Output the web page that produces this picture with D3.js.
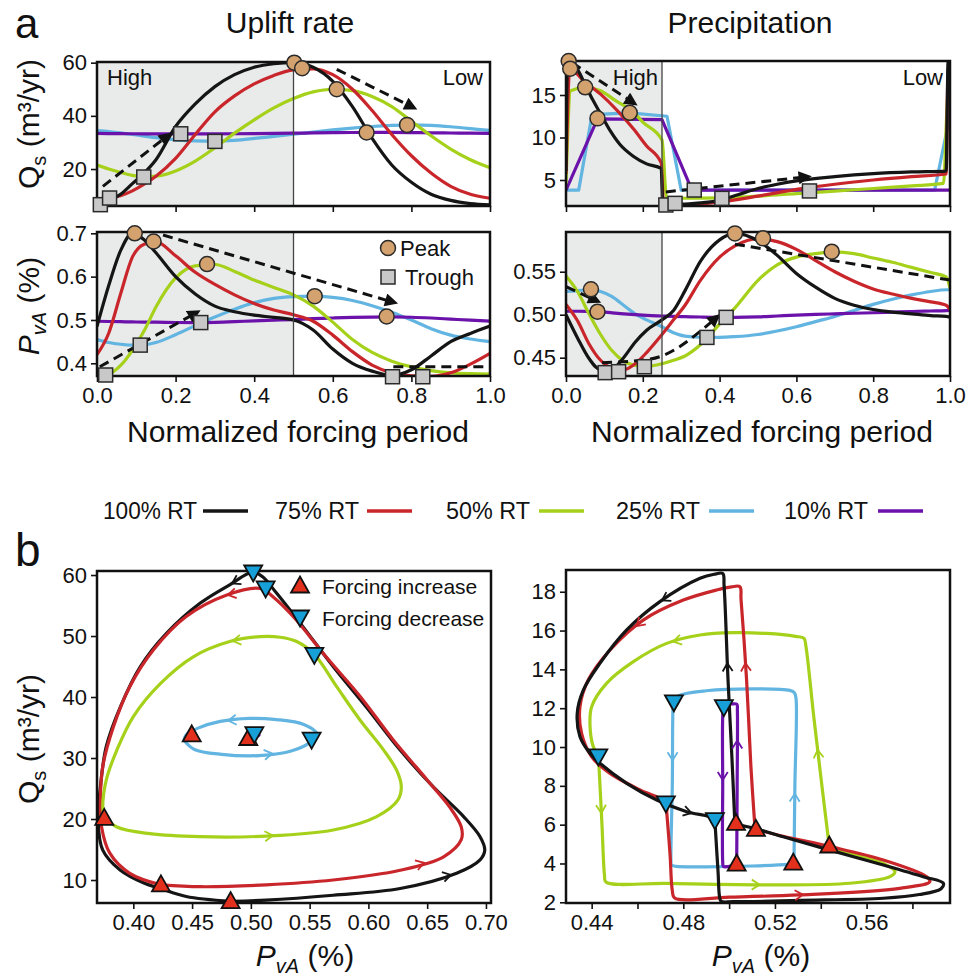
<!DOCTYPE html>
<html>
<head>
<meta charset="utf-8">
<script src="https://cdn.jsdelivr.net/npm/d3@7"></script>
<style>
  body { margin: 0; background: #fff; }
  svg { font-family: "Liberation Sans", Arial, Helvetica, sans-serif; }
</style>
</head>
<body>
<div id="fig"></div>
<script>
// ---------- data ----------
const rtLabels = ["100% RT", "75% RT", "50% RT", "25% RT", "10% RT"];

// a) uplift forcing, normalized period grid
const tUp = [0, 0.03, 0.06, 0.09, 0.12, 0.15, 0.2, 0.25, 0.3, 0.35, 0.4, 0.45, 0.5, 0.55, 0.6, 0.65, 0.7, 0.75, 0.8, 0.85, 0.9, 0.95, 1];
const qsUp100 = [7, 8, 10.5, 14.5, 18.5, 23.5, 36, 44.5, 51, 55.5, 58.3, 59.6, 60, 58.3, 53, 43.5, 31.5, 21.5, 15, 10.5, 8.2, 7, 6.5];
const qsUp75 = [8.8, 9.3, 10, 11.8, 14.3, 17.3, 24, 33, 41.5, 47.5, 52, 55.2, 57.3, 57.7, 55.5, 50, 42, 33, 25, 18.5, 13.5, 10.5, 9];
const qsUp50 = [21.5, 20, 18.7, 17.6, 17.1, 17.3, 19.3, 23, 28, 33.5, 38.5, 43, 46.5, 49, 50, 49.5, 47.3, 43.5, 38, 32.5, 27.5, 23.5, 20.5];
const qsUp25 = [34.5, 34.1, 33.6, 33, 32.4, 31.8, 31, 30.6, 30.5, 30.8, 31.5, 32.3, 33.1, 33.9, 34.7, 35.4, 36, 36.4, 36.6, 36.4, 35.9, 35.2, 34.5];
const qsUp10 = [33.4, 33.35, 33.3, 33.27, 33.24, 33.22, 33.2, 33.2, 33.22, 33.27, 33.33, 33.4, 33.48, 33.57, 33.66, 33.74, 33.78, 33.76, 33.7, 33.62, 33.55, 33.48, 33.42];

const pvaUp100 = [0.485, 0.58, 0.66, 0.70, 0.685, 0.655, 0.60, 0.56, 0.532, 0.519, 0.511, 0.506, 0.50, 0.477, 0.433, 0.40, 0.382, 0.372, 0.385, 0.417, 0.45, 0.469, 0.486];
const pvaUp75 = [0.42, 0.47, 0.56, 0.645, 0.675, 0.68, 0.648, 0.61, 0.582, 0.558, 0.538, 0.523, 0.512, 0.497, 0.465, 0.427, 0.396, 0.378, 0.371, 0.370, 0.378, 0.398, 0.423];
const pvaUp50 = [0.375, 0.376, 0.395, 0.43, 0.475, 0.53, 0.597, 0.625, 0.628, 0.612, 0.592, 0.575, 0.558, 0.532, 0.495, 0.455, 0.425, 0.405, 0.392, 0.383, 0.378, 0.376, 0.375];
const pvaUp25 = [0.455, 0.448, 0.444, 0.442, 0.443, 0.448, 0.466, 0.487, 0.507, 0.525, 0.54, 0.55, 0.554, 0.555, 0.552, 0.545, 0.533, 0.518, 0.5, 0.48, 0.465, 0.456, 0.45];
const pvaUp10 = [0.497, 0.4965, 0.496, 0.4955, 0.495, 0.4948, 0.4942, 0.494, 0.4945, 0.496, 0.498, 0.4995, 0.501, 0.503, 0.5045, 0.5058, 0.5066, 0.507, 0.5063, 0.5045, 0.502, 0.4995, 0.4975];

const qsUpPeaks = [[0.502, 60], [0.522, 57.9], [0.61, 50], [0.686, 33.75], [0.789, 36.6]];
const qsUpTroughs = [[0.0085, 6.6], [0.032, 9.1], [0.119, 17], [0.213, 33.25], [0.30, 30.4]];
const pvaUpPeaks = [[0.096, 0.70], [0.144, 0.681], [0.28, 0.629], [0.554, 0.555], [0.737, 0.508]];
const pvaUpTroughs = [[0.022, 0.373], [0.11, 0.442], [0.264, 0.494], [0.752, 0.369], [0.829, 0.369]];
const qsUpArrows = [[[0.015, 13.5], [0.177, 32.2]], [[0.61, 57.5], [0.80, 43.5]]];
const pvaUpArrows = [[[0.007, 0.392], [0.249, 0.515]], [[0.168, 0.696], [0.75, 0.542]]];
const pvaUpDashes = [[[0.754, 0.392], [1.0, 0.392]]];

// a) precipitation forcing
const tQsPr100 = [0, 0.004, 0.03, 0.05, 0.07, 0.09, 0.115, 0.14, 0.175, 0.21, 0.248, 0.252, 0.3, 0.35, 0.4, 0.45, 0.5, 0.55, 0.6, 0.7, 0.8, 0.9, 0.99, 0.995, 1];
const qsPr100 = [6.05, 19, 18, 16.2, 14.4, 12.8, 10.8, 9.2, 7.8, 6.9, 6.35, 2.2, 2.15, 2.3, 2.6, 3.3, 4.0, 4.5, 4.9, 5.4, 5.75, 5.95, 6.05, 19, 19];
const tQsPr75 = [0, 0.01, 0.045, 0.09, 0.133, 0.176, 0.21, 0.248, 0.254, 0.3, 0.4, 0.5, 0.6, 0.7, 0.8, 0.9, 0.99, 0.995, 1];
const qsPr75 = [5.7, 18.1, 16.7, 15.1, 13.2, 11.0, 9.0, 7.0, 2.1, 2.1, 2.4, 3.1, 3.9, 4.5, 5.0, 5.4, 5.7, 18.1, 18.1];
const tQsPr50 = [0, 0.012, 0.05, 0.09, 0.13, 0.175, 0.2, 0.25, 0.262, 0.3, 0.4, 0.5, 0.6, 0.7, 0.8, 0.9, 0.983, 0.995, 1];
const qsPr50 = [4.6, 15.5, 15.9, 15.5, 14.3, 13.0, 11.8, 9.7, 2.9, 2.85, 2.9, 3.1, 3.4, 3.7, 4.0, 4.3, 4.6, 15.4, 15.6];
const tQsPr25 = [0, 0.033, 0.068, 0.166, 0.263, 0.3, 0.96, 1];
const qsPr25 = [3.8, 3.8, 12.7, 12.9, 12.5, 3.8, 3.8, 12.6];
const tQsPr10 = [0, 0.082, 0.25, 0.328, 1];
const qsPr10 = [3.8, 12.2, 12.1, 3.8, 3.8];

const tPvaPr = [0, 0.03, 0.06, 0.09, 0.12, 0.15, 0.18, 0.21, 0.25, 0.28, 0.31, 0.35, 0.4, 0.44, 0.5, 0.55, 0.6, 0.65, 0.7, 0.75, 0.8, 0.85, 0.9, 0.95, 0.99, 1];
const pvaPr100 = [0.500, 0.473, 0.449, 0.436, 0.437, 0.45, 0.468, 0.482, 0.494, 0.505, 0.528, 0.562, 0.587, 0.5946, 0.586, 0.569, 0.548, 0.532, 0.519, 0.511, 0.506, 0.503, 0.501, 0.499, 0.498, 0.497];
const pvaPr75 = [0.512, 0.493, 0.466, 0.447, 0.438, 0.436, 0.443, 0.456, 0.477, 0.494, 0.511, 0.54, 0.567, 0.58, 0.5885, 0.585, 0.576, 0.563, 0.55, 0.539, 0.53, 0.524, 0.519, 0.515, 0.511, 0.506];
const pvaPr50 = [0.545, 0.527, 0.501, 0.477, 0.458, 0.446, 0.441, 0.44, 0.443, 0.447, 0.452, 0.465, 0.489, 0.508, 0.54, 0.558, 0.567, 0.571, 0.573, 0.571, 0.566, 0.561, 0.555, 0.549, 0.544, 0.531];
const pvaPr25 = [0.527, 0.528, 0.529, 0.527, 0.521, 0.511, 0.501, 0.494, 0.486, 0.479, 0.475, 0.4738, 0.4737, 0.4745, 0.477, 0.481, 0.486, 0.492, 0.498, 0.505, 0.512, 0.518, 0.523, 0.527, 0.529, 0.529];
const pvaPr10 = [0.504, 0.504, 0.5037, 0.5032, 0.5022, 0.501, 0.5, 0.4992, 0.4985, 0.498, 0.4977, 0.4973, 0.497, 0.497, 0.4975, 0.4985, 0.4995, 0.5003, 0.501, 0.5017, 0.5023, 0.503, 0.5037, 0.5043, 0.5048, 0.505];

const qsPrPeaks = [[0.007, 19.0], [0.011, 18.1], [0.05, 15.9], [0.082, 12.25], [0.166, 12.9]];
const qsPrTroughs = [[0.26, 2.06], [0.284, 2.25], [0.334, 3.82], [0.406, 2.84], [0.634, 3.71]];
const pvaPrPeaks = [[0.065, 0.5295], [0.082, 0.5035], [0.44, 0.5946], [0.513, 0.5888], [0.692, 0.5733]];
const pvaPrTroughs = [[0.102, 0.4326], [0.137, 0.4337], [0.204, 0.4395], [0.367, 0.4736], [0.417, 0.4969]];
const qsPrArrows = [[[0.016, 18.8], [0.172, 14.2]], [[0.26, 3.6], [0.623, 5.35]]];
const pvaPrArrows = [[[0.0, 0.5326], [0.076, 0.517]], [[0.094, 0.4442], [0.22, 0.4485], [0.389, 0.4957]]];
const pvaPrDashes = [[[0.44, 0.582], [1.0, 0.5403]]];

// b) hysteresis loops (PvA %, Qs m3/yr), in time order
const loopUp100 = [[0.483, 6.5], [0.513, 6.7], [0.570, 7.5], [0.627, 8.6], [0.675, 11.1], [0.695, 13.3], [0.699, 14.9], [0.695, 17.1], [0.681, 20.4], [0.655, 25.3], [0.627, 31.3], [0.598, 38.4], [0.570, 45], [0.542, 52.1], [0.522, 57], [0.510, 59.7], [0.502, 60.5], [0.482, 58.4], [0.457, 55.4], [0.428, 50.4], [0.406, 45], [0.389, 38.4], [0.377, 31.9], [0.372, 25.3], [0.370, 19.8], [0.374, 14.9], [0.389, 11.6], [0.409, 9.5], [0.423, 8.6], [0.445, 7.3], [0.483, 6.5]];
const loopUp75 = [[0.4235, 9.2], [0.457, 8.9], [0.513, 9.2], [0.570, 10], [0.627, 11.6], [0.664, 13.8], [0.679, 16.6], [0.679, 18.7], [0.669, 22], [0.650, 26.4], [0.621, 33], [0.593, 40.1], [0.564, 46.6], [0.536, 53.2], [0.519, 56.4], [0.508, 57.8], [0.479, 56.7], [0.445, 53.2], [0.417, 47.7], [0.397, 41.7], [0.383, 35.1], [0.374, 28.6], [0.372, 23.1], [0.373, 18.7], [0.380, 14.4], [0.397, 11.1], [0.4235, 9.2]];
const loopUp50 = [[0.375, 20.5], [0.386, 18.7], [0.414, 17.6], [0.457, 17.1], [0.513, 17.2], [0.570, 18.2], [0.607, 20.4], [0.625, 23.1], [0.628, 25.3], [0.624, 28], [0.613, 31.3], [0.593, 36.2], [0.573, 41.7], [0.554, 47], [0.539, 49.1], [0.525, 49.8], [0.508, 49.9], [0.482, 49.1], [0.451, 46.6], [0.423, 42.2], [0.400, 36.8], [0.386, 31.3], [0.377, 26.4], [0.374, 22], [0.375, 20.5]];
const loopUp25 = [[0.443, 32.9], [0.452, 31.4], [0.475, 30.6], [0.507, 30.4], [0.535, 31.2], [0.552, 32.8], [0.556, 34.0], [0.545, 35.5], [0.522, 36.3], [0.499, 36.5], [0.474, 36.0], [0.455, 34.9], [0.445, 33.8], [0.443, 32.9]];
const loopUp10 = [[0.4945, 33.25], [0.499, 33.2], [0.504, 33.45], [0.507, 33.75], [0.503, 33.8], [0.498, 33.6], [0.4945, 33.25]];

const loopPr100 = [[0.5025, 6.05], [0.5012, 9.5], [0.4995, 13.5], [0.4978, 18.3], [0.4972, 18.94], [0.4935, 18.9], [0.4873, 18.69], [0.4698, 17.49], [0.4553, 16.03], [0.4436, 14.31], [0.4364, 12.94], [0.4337, 11.73], [0.4349, 10.53], [0.4393, 9.67], [0.4436, 9.16], [0.4553, 8.13], [0.4684, 7.27], [0.4815, 6.67], [0.4938, 6.28], [0.494, 5.8], [0.4952, 3.5], [0.4958, 2.3], [0.4965, 2.05], [0.5018, 2.03], [0.5309, 2.1], [0.5673, 2.21], [0.583, 2.4], [0.5925, 2.7], [0.5935, 2.98], [0.5847, 3.32], [0.5673, 3.92], [0.544, 4.69], [0.5236, 5.38], [0.5113, 5.8], [0.5025, 6.05]];
const loopPr75 = [[0.5113, 5.78], [0.5095, 9], [0.5076, 13.5], [0.5052, 17.6], [0.5047, 18.26], [0.501, 18.25], [0.4945, 18.09], [0.48, 17.57], [0.4625, 16.54], [0.448, 15.0], [0.4385, 13.45], [0.4349, 12.08], [0.4356, 10.7], [0.44, 9.5], [0.448, 8.64], [0.4611, 7.79], [0.4724, 7.15], [0.4728, 6.6], [0.4742, 4.5], [0.4752, 2.6], [0.4762, 2.22], [0.5, 2.27], [0.5309, 2.38], [0.5745, 2.72], [0.5876, 3.06], [0.5862, 3.32], [0.5673, 4.18], [0.5437, 4.88], [0.5236, 5.4], [0.5113, 5.78]];
const loopPr50 = [[0.5437, 4.88], [0.5405, 8], [0.537, 11.5], [0.5335, 15.2], [0.5327, 15.6], [0.529, 15.7], [0.5164, 15.85], [0.5018, 15.89], [0.4873, 15.77], [0.4727, 15.34], [0.4582, 14.4], [0.4465, 13.28], [0.44, 12.08], [0.4393, 11.05], [0.4407, 10.02], [0.4429, 9.54], [0.4432, 9.0], [0.4445, 6.0], [0.4456, 3.4], [0.4462, 3.05], [0.4727, 2.97], [0.5164, 2.9], [0.5527, 2.98], [0.5702, 3.32], [0.5724, 3.58], [0.5673, 4.0], [0.5527, 4.52], [0.5437, 4.88]];
const loopPr25 = [[0.5283, 4.0], [0.5287, 8.0], [0.5292, 12.5], [0.5285, 12.8], [0.5265, 12.92], [0.51, 13.0], [0.49, 12.9], [0.478, 12.65], [0.4758, 12.4], [0.4755, 12.0], [0.4752, 8], [0.4746, 4.2], [0.4748, 3.92], [0.477, 3.85], [0.49, 3.83], [0.51, 3.87], [0.5265, 3.97], [0.5283, 4.0]];
const loopPr10 = [[0.5033, 3.97], [0.5035, 8], [0.5036, 11.9], [0.5034, 12.2], [0.5015, 12.22], [0.4978, 12.12], [0.4973, 11.8], [0.4972, 8], [0.4972, 4.1], [0.4975, 3.85], [0.4995, 3.84], [0.5033, 3.97]];

// flow direction chevrons: [series, segment, fraction along segment]
const loopUpFlow = [[0, 3, 0.9], [0, 16, 0.9], [1, 4, 0.55], [1, 15, 0.95], [2, 4, 0.1], [2, 16, 0.9], [3, 3, 0.4], [3, 9, 0.73]];
const loopPrFlow = [[0, 2, 0.17], [0, 6, 0.95], [0, 17, 0.17], [1, 2, 0.2], [1, 8, 0.2], [1, 22, 0.03], [2, 1, 0.53], [2, 8, 0.8], [2, 16, 0.8], [2, 20, 0.93], [3, 0, 0.9], [3, 9, 0.67], [4, 1, 0.6], [4, 6, 0.92]];

const loopUpIncrease = [[0.3753, 20.1], [0.4235, 9.2], [0.4828, 6.45], [0.4497, 33.8], [0.4978, 33.2]];
const loopUpDecrease = [[0.502, 60.5], [0.5126, 57.9], [0.554, 47], [0.5517, 33.1], [0.503, 34]];
const loopPrIncrease = [[0.503, 6.07], [0.5117, 5.76], [0.5437, 4.9], [0.528, 4.02], [0.5033, 3.97]];
const loopPrDecrease = [[0.4759, 12.33], [0.4977, 12.08], [0.4429, 9.54], [0.4724, 7.12], [0.4938, 6.26]];

// ticks
const ticksPeriod = [0, 0.2, 0.4, 0.6, 0.8, 1];
const ticksQsUp = [20, 40, 60];
const ticksQsPr = [5, 10, 15];
const ticksPvaUp = [0.4, 0.5, 0.6, 0.7];
const ticksPvaPr = [0.45, 0.5, 0.55];
const ticksLoopUpX = [0.40, 0.45, 0.50, 0.55, 0.60, 0.65, 0.70];
const ticksLoopUpY = [10, 20, 30, 40, 50, 60];
const ticksLoopPrX = [0.44, 0.46, 0.48, 0.50, 0.52, 0.54, 0.56, 0.58];
const ticksLoopPrY = [2, 4, 6, 8, 10, 12, 14, 16, 18];

// ---------- style ----------
const colors = ["#151515", "#c9262b", "#a6d11b", "#62b4e1", "#6b12aa"];
const INK = "#111";

const svg = d3.select("#fig").append("svg").attr("width", 978).attr("height", 976);
const defs = svg.append("defs");
defs.append("marker").attr("id", "head").attr("viewBox", "0 0 10 10")
  .attr("refX", 5).attr("refY", 5).attr("markerWidth", 4.8).attr("markerHeight", 4.4)
  .attr("orient", "auto")
  .append("path").attr("d", "M0,0L10,5L0,10Z").attr("fill", INK);

let clipN = 0;
function makePanel(box, xDom, yDom) {
  const x = d3.scaleLinear().domain(xDom).range([box.x0, box.x1]);
  const y = d3.scaleLinear().domain(yDom).range([box.y1, box.y0]);
  const id = "clip" + clipN++;
  defs.append("clipPath").attr("id", id).append("rect")
    .attr("x", box.x0).attr("y", box.y0)
    .attr("width", box.x1 - box.x0).attr("height", box.y1 - box.y0);
  const g = svg.append("g");
  return {
    x, y, box,
    back: g.append("g"),
    plot: g.append("g").attr("clip-path", `url(#${id})`),
    frame: g.append("g"),
    top: g.append("g")
  };
}

function axes(p, xTicks, xFmt, yTicks, yFmt) {
  const ax = p.frame.append("g").attr("transform", `translate(0,${p.box.y1})`)
    .call(d3.axisBottom(p.x).tickValues(xTicks).tickSize(6).tickPadding(5).tickFormat(xFmt));
  const ay = p.frame.append("g").attr("transform", `translate(${p.box.x0},0)`)
    .call(d3.axisLeft(p.y).tickValues(yTicks).tickSize(6).tickPadding(4).tickFormat(yFmt));
  [ax, ay].forEach(a => {
    a.attr("font-family", null).attr("font-size", null);
    a.select(".domain").remove();
    a.selectAll(".tick line").attr("stroke", INK).attr("stroke-width", 1.6);
    a.selectAll(".tick text").attr("fill", INK).attr("font-size", 22);
  });
  p.frame.append("rect")
    .attr("x", p.box.x0).attr("y", p.box.y0)
    .attr("width", p.box.x1 - p.box.x0).attr("height", p.box.y1 - p.box.y0)
    .attr("fill", "none").attr("stroke", INK).attr("stroke-width", 2.5);
}

function shade(p, split) {
  p.back.append("rect")
    .attr("x", p.x(0)).attr("y", p.box.y0)
    .attr("width", p.x(split) - p.x(0)).attr("height", p.box.y1 - p.box.y0)
    .attr("fill", "#e9eaea");
  p.frame.append("line")
    .attr("x1", p.x(split)).attr("x2", p.x(split))
    .attr("y1", p.box.y0).attr("y2", p.box.y1)
    .attr("stroke", "#444").attr("stroke-width", 1.3);
}

function series(p, t, v, i, curve) {
  p.plot.append("path").datum(d3.zip(t, v))
    .attr("d", d3.line().x(d => p.x(d[0])).y(d => p.y(d[1])).curve(curve))
    .attr("fill", "none").attr("stroke", colors[i])
    .attr("stroke-width", 3.2).attr("stroke-linejoin", "round");
}

function dashed(p, lines, withHead) {
  const line = d3.line().x(d => p.x(d[0])).y(d => p.y(d[1])).curve(d3.curveMonotoneX);
  lines.forEach(pts => {
    const path = p.top.append("path").attr("d", line(pts))
      .attr("fill", "none").attr("stroke", INK).attr("stroke-width", 3)
      .attr("stroke-dasharray", "10,6");
    if (withHead) path.attr("marker-end", "url(#head)");
  });
}

function peaks(p, pts) {
  p.top.selectAll(null).data(pts).join("circle")
    .attr("cx", d => p.x(d[0])).attr("cy", d => p.y(d[1])).attr("r", 7.5)
    .attr("fill", "#d4a26e").attr("stroke", "#2a2a2a").attr("stroke-width", 1.5);
}
function troughs(p, pts) {
  p.top.selectAll(null).data(pts).join("rect")
    .attr("x", d => p.x(d[0]) - 7).attr("y", d => p.y(d[1]) - 7)
    .attr("width", 14).attr("height", 14)
    .attr("fill", "#c8c8c8").attr("stroke", "#2a2a2a").attr("stroke-width", 1.5);
}

const triUp = "M0,-9.5L9,6.5L-9,6.5Z";
const triDown = "M0,9.5L9,-6.5L-9,-6.5Z";
function triangles(g, pts, x, y, shape, fill) {
  g.selectAll(null).data(pts).join("path")
    .attr("d", shape)
    .attr("transform", d => `translate(${x(d[0])},${y(d[1])})`)
    .attr("fill", fill).attr("stroke", INK).attr("stroke-width", 1.8)
    .attr("stroke-linejoin", "miter");
}

function loop(p, pts, i) {
  p.plot.append("path").datum(pts)
    .attr("d", d3.line().x(d => p.x(d[0])).y(d => p.y(d[1])).curve(d3.curveCatmullRom.alpha(0.5)))
    .attr("fill", "none").attr("stroke", colors[i])
    .attr("stroke-width", 3.2).attr("stroke-linejoin", "round");
}

function flow(p, loops, specs) {
  specs.forEach(([i, s, f]) => {
    const a = loops[i][s], b = loops[i][s + 1];
    const ax = p.x(a[0]), ay = p.y(a[1]), bx = p.x(b[0]), by = p.y(b[1]);
    const cx = ax + (bx - ax) * f, cy = ay + (by - ay) * f;
    const ang = Math.atan2(by - ay, bx - ax) * 180 / Math.PI;
    p.top.append("path").attr("d", "M-8,-5L0,0L-8,5")
      .attr("transform", `translate(${cx},${cy}) rotate(${ang})`)
      .attr("fill", "none").attr("stroke", colors[i]).attr("stroke-width", 1.8);
  });
}

function label(x, y, txt, size, anchor) {
  return svg.append("text").attr("x", x).attr("y", y).attr("font-size", size)
    .attr("text-anchor", anchor || "start").attr("fill", INK).text(txt);
}

// axis title with a subscript part
function subTitle(tf, main, sub, rest, italic) {
  const t = svg.append("text").attr("transform", tf).attr("text-anchor", "middle")
    .attr("font-size", 30).attr("fill", INK);
  t.append("tspan").attr("font-style", italic ? "italic" : null).text(main);
  t.append("tspan").attr("font-size", 20).attr("dy", 7).attr("font-style", italic ? "italic" : null).text(sub);
  t.append("tspan").attr("dy", -7).text(rest);
  return t;
}

const order = [3, 4, 2, 1, 0];
const fmt1 = d3.format(".1f"), fmt2 = d3.format(".2f");
const none = () => "";

// ---------- panel a: uplift ----------
const pQU = makePanel({ x0: 97, x1: 490, y0: 62, y1: 206 }, [0, 1], [6.1, 60.25]);
shade(pQU, 0.5);
const qsUp = [qsUp100, qsUp75, qsUp50, qsUp25, qsUp10];
order.forEach(i => series(pQU, tUp, qsUp[i], i, d3.curveMonotoneX));
axes(pQU, ticksPeriod, none, ticksQsUp, d3.format("d"));
dashed(pQU, qsUpArrows, true);
troughs(pQU, qsUpTroughs);
peaks(pQU, qsUpPeaks);

const pPU = makePanel({ x0: 97, x1: 490, y0: 232, y1: 376 }, [0, 1], [0.3707, 0.703]);
shade(pPU, 0.5);
const pvaUp = [pvaUp100, pvaUp75, pvaUp50, pvaUp25, pvaUp10];
order.forEach(i => series(pPU, tUp, pvaUp[i], i, d3.curveMonotoneX));
axes(pPU, ticksPeriod, fmt1, ticksPvaUp, fmt1);
dashed(pPU, pvaUpArrows, true);
dashed(pPU, pvaUpDashes, false);
troughs(pPU, pvaUpTroughs);
peaks(pPU, pvaUpPeaks);

// ---------- panel a: precipitation ----------
const pQP = makePanel({ x0: 566, x1: 950, y0: 61, y1: 206 }, [0, 1], [1.94, 19.0]);
shade(pQP, 0.25);
const qsPrT = [tQsPr100, tQsPr75, tQsPr50, tQsPr25, tQsPr10];
const qsPr = [qsPr100, qsPr75, qsPr50, qsPr25, qsPr10];
order.forEach(i => series(pQP, qsPrT[i], qsPr[i], i, i >= 3 ? d3.curveLinear : d3.curveMonotoneX));
axes(pQP, ticksPeriod, none, ticksQsPr, d3.format("d"));
dashed(pQP, qsPrArrows, true);
troughs(pQP, qsPrTroughs);
peaks(pQP, qsPrPeaks);

const pPP = makePanel({ x0: 566, x1: 950, y0: 232, y1: 376 }, [0, 1], [0.4287, 0.5962]);
shade(pPP, 0.25);
const pvaPr = [pvaPr100, pvaPr75, pvaPr50, pvaPr25, pvaPr10];
order.forEach(i => series(pPP, tPvaPr, pvaPr[i], i, d3.curveMonotoneX));
axes(pPP, ticksPeriod, fmt1, ticksPvaPr, fmt2);
dashed(pPP, pvaPrArrows, true);
dashed(pPP, pvaPrDashes, false);
troughs(pPP, pvaPrTroughs);
peaks(pPP, pvaPrPeaks);

// labels in panel a
label(15, 38, "a", 42);
label(290, 33, "Uplift rate", 30, "middle");
label(750, 33, "Precipitation", 30, "middle");
label(107, 85, "High", 22);
label(483, 85, "Low", 22, "end");
label(658, 85, "High", 22, "end");
label(943, 85, "Low", 22, "end");
peaks({ top: svg, x: d => d, y: d => d }, [[388, 248]]);
troughs({ top: svg, x: d => d, y: d => d }, [[388, 277]]);
label(400, 256, "Peak", 22);
label(405, 285, "Trough", 22);

subTitle("translate(39,124) rotate(-90)", "Q", "s", " (m³/yr)", false);
subTitle("translate(39,306) rotate(-90)", "P", "vA", " (%)", true);
label(298, 442, "Normalized forcing period", 30, "middle");
label(762, 442, "Normalized forcing period", 30, "middle");

// ---------- legend ----------
const legTextX = [103, 275, 446, 616, 784];
const legLineX = [203, 367, 539, 709, 878];
rtLabels.forEach((s, i) => {
  svg.append("text").attr("x", legTextX[i]).attr("y", 519).attr("font-size", 24)
    .attr("textLength", i === 0 ? 94 : 84).attr("lengthAdjust", "spacingAndGlyphs")
    .attr("fill", INK).text(s);
  svg.append("line").attr("x1", legLineX[i]).attr("x2", legLineX[i] + 45)
    .attr("y1", 511).attr("y2", 511).attr("stroke", colors[i]).attr("stroke-width", 3.5);
});

// ---------- panel b: uplift loops ----------
const pLU = makePanel({ x0: 97, x1: 491, y0: 571, y1: 903 }, [0.3691, 0.7043], [6.23, 60.66]);
const loopsUp = [loopUp100, loopUp75, loopUp50, loopUp25, loopUp10];
[0, 1, 2, 3, 4].forEach(i => loop(pLU, loopsUp[i], i));
axes(pLU, ticksLoopUpX, fmt2, ticksLoopUpY, d3.format("d"));
flow(pLU, loopsUp, loopUpFlow);
triangles(pLU.top, loopUpIncrease, pLU.x, pLU.y, triUp, "#e2301c");
triangles(pLU.top, loopUpDecrease, pLU.x, pLU.y, triDown, "#17a0d8");

// ---------- panel b: precipitation loops ----------
const pLP = makePanel({ x0: 566, x1: 950, y0: 570, y1: 903 }, [0.4288, 0.5964], [1.964, 19.12]);
const loopsPr = [loopPr100, loopPr75, loopPr50, loopPr25, loopPr10];
[2, 3, 4, 1, 0].forEach(i => loop(pLP, loopsPr[i], i));
axes(pLP, ticksLoopPrX, d => (Math.round(d * 100) % 4 === 0 ? fmt2(d) : ""), ticksLoopPrY, d3.format("d"));
flow(pLP, loopsPr, loopPrFlow);
triangles(pLP.top, loopPrIncrease, pLP.x, pLP.y, triUp, "#e2301c");
triangles(pLP.top, loopPrDecrease, pLP.x, pLP.y, triDown, "#17a0d8");

// b labels and legend
label(15, 566, "b", 46);
triangles(svg, [[300, 586]], d => d, d => d, triUp, "#e2301c");
triangles(svg, [[300, 617]], d => d, d => d, triDown, "#17a0d8");
label(322, 594, "Forcing increase", 21);
label(322, 626, "Forcing decrease", 21);
subTitle("translate(39,739) rotate(-90)", "Q", "s", " (m³/yr)", false);
subTitle("translate(305,966)", "P", "vA", " (%)", true);
subTitle("translate(761,966)", "P", "vA", " (%)", true);
</script>
</body>
</html>
